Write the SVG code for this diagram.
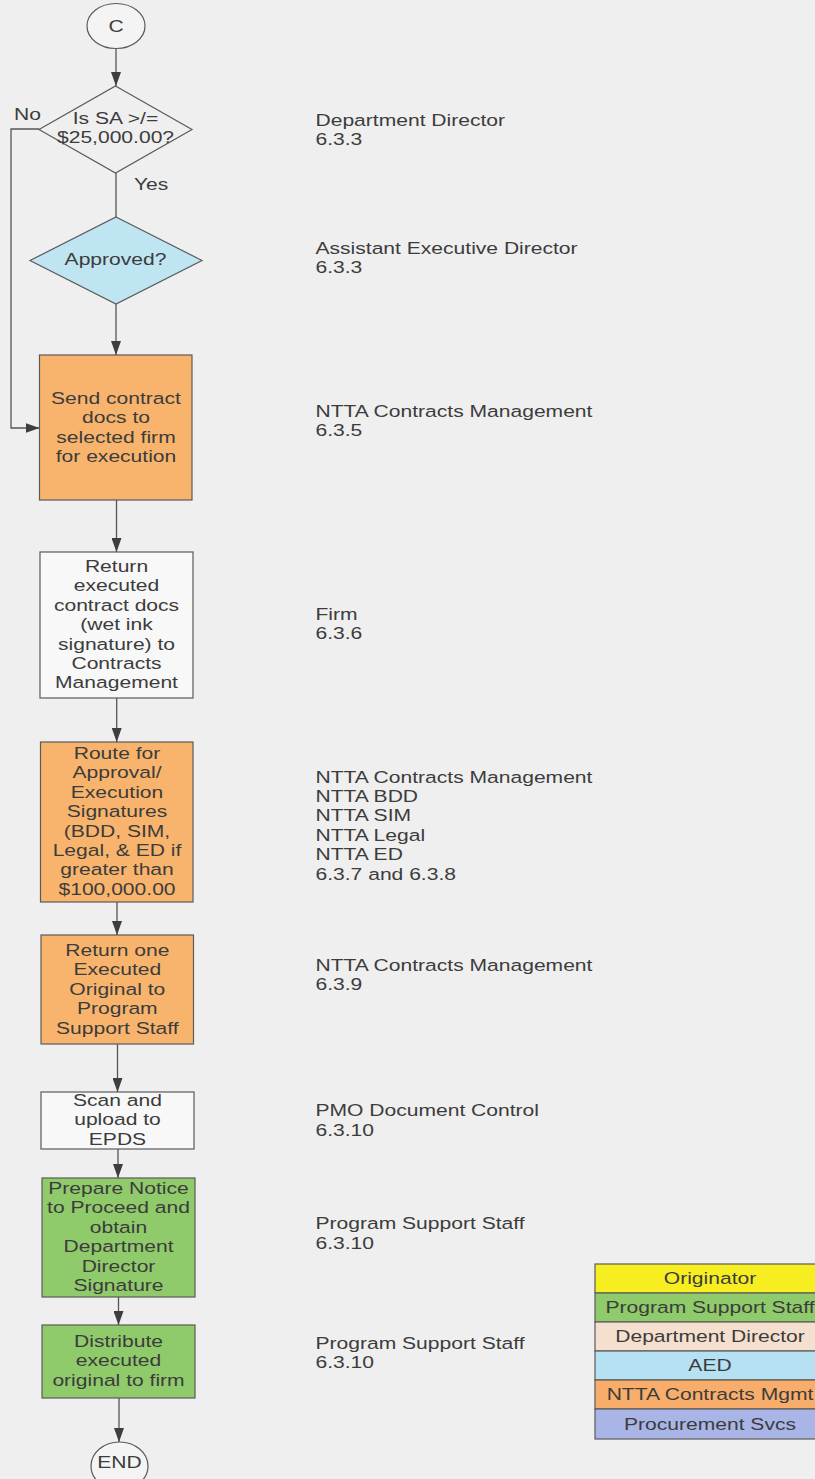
<svg xmlns="http://www.w3.org/2000/svg" width="815" height="1479" viewBox="0 0 815 1479">
<style>
.t{font-family:"Liberation Sans",Arial,sans-serif;font-size:17px;fill:#3c3c3c}
.m{text-anchor:middle}
.shape{stroke:#5a5a5a;stroke-width:1.2}
.ln{fill:none;stroke:#555;stroke-width:1.3}
</style>
<defs>
<marker id="ah" markerUnits="userSpaceOnUse" markerWidth="14" markerHeight="10" refX="14" refY="5" orient="auto">
<path d="M0,0 L14,5 L0,10 z" fill="#3e3e3e"/>
</marker>
</defs>
<rect x="0" y="0" width="815" height="1479" fill="#efefef"/>

<g id="connectors">
<line class="ln" x1="116" y1="49" x2="116" y2="86" marker-end="url(#ah)"/>
<line class="ln" x1="116" y1="173" x2="116" y2="217"/>
<line class="ln" x1="116" y1="304" x2="116" y2="355" marker-end="url(#ah)"/>
<polyline class="ln" points="39,129 11,129 11,428 39.5,428" marker-end="url(#ah)"/>
<line class="ln" x1="116.5" y1="500" x2="116.5" y2="552" marker-end="url(#ah)"/>
<line class="ln" x1="116.7" y1="698" x2="116.7" y2="742" marker-end="url(#ah)"/>
<line class="ln" x1="117" y1="902" x2="117" y2="935" marker-end="url(#ah)"/>
<line class="ln" x1="117.5" y1="1044" x2="117.5" y2="1092" marker-end="url(#ah)"/>
<line class="ln" x1="118" y1="1149" x2="118" y2="1178" marker-end="url(#ah)"/>
<line class="ln" x1="118.5" y1="1297" x2="118.5" y2="1325" marker-end="url(#ah)"/>
<line class="ln" x1="119" y1="1398" x2="119" y2="1442" marker-end="url(#ah)"/>
<g transform="translate(14,0) scale(1.24,1)"><text class="t" x="0" y="120">No</text></g>
<g transform="translate(134,0) scale(1.24,1)"><text class="t" x="0" y="190">Yes</text></g>
</g>

<g id="start">
<ellipse class="shape" cx="116" cy="26" rx="29" ry="22.5" fill="#f4f4f4"/>
<g transform="translate(116,0) scale(1.24,1)"><text class="t m" x="0" y="32">C</text></g>
</g>

<g id="dec-sa">
<polygon class="shape" points="115.5,86 192,129.5 115.5,173 39,129.5" fill="#efefef"/>
<g transform="translate(115.5,0) scale(1.24,1)"><text class="t m" x="0" y="124">Is SA &gt;/=</text><text class="t m" x="0" y="143">$25,000.00?</text></g>
</g>

<g id="dec-approved">
<polygon class="shape" points="116,217 202,260.5 116,304 30,260.5" fill="#bfe5f2"/>
<g transform="translate(115.5,0) scale(1.24,1)"><text class="t m" x="0" y="265">Approved?</text></g>
</g>

<g id="box-send">
<rect class="shape" x="39.5" y="355" width="152.5" height="145" fill="#f8b46d"/>
<g transform="translate(116,0) scale(1.24,1)"><text class="t m" x="0" y="404">Send contract</text><text class="t m" x="0" y="423.4">docs to</text><text class="t m" x="0" y="442.8">selected firm</text><text class="t m" x="0" y="462.2">for execution</text></g>
</g>

<g id="box-return">
<rect class="shape" x="40" y="552" width="153" height="146" fill="#f8f8f8"/>
<g transform="translate(116.5,0) scale(1.24,1)"><text class="t m" x="0" y="572">Return</text><text class="t m" x="0" y="591.4">executed</text><text class="t m" x="0" y="610.8">contract docs</text><text class="t m" x="0" y="630.2">(wet ink</text><text class="t m" x="0" y="649.6">signature) to</text><text class="t m" x="0" y="669">Contracts</text><text class="t m" x="0" y="688.4">Management</text></g>
</g>

<g id="box-route">
<rect class="shape" x="40.5" y="742" width="152.5" height="160" fill="#f8b46d"/>
<g transform="translate(117,0) scale(1.24,1)"><text class="t m" x="0" y="759">Route for</text><text class="t m" x="0" y="778.4">Approval/</text><text class="t m" x="0" y="797.8">Execution</text><text class="t m" x="0" y="817.2">Signatures</text><text class="t m" x="0" y="836.6">(BDD, SIM,</text><text class="t m" x="0" y="856">Legal, &amp; ED if</text><text class="t m" x="0" y="875.4">greater than</text><text class="t m" x="0" y="894.8">$100,000.00</text></g>
</g>

<g id="box-return-one">
<rect class="shape" x="41" y="935" width="152.5" height="109" fill="#f8b46d"/>
<g transform="translate(117.3,0) scale(1.24,1)"><text class="t m" x="0" y="956">Return one</text><text class="t m" x="0" y="975.4">Executed</text><text class="t m" x="0" y="994.8">Original to</text><text class="t m" x="0" y="1014.2">Program</text><text class="t m" x="0" y="1033.6">Support Staff</text></g>
</g>

<g id="box-scan">
<rect class="shape" x="41" y="1092" width="153" height="57" fill="#f8f8f8"/>
<g transform="translate(117.5,0) scale(1.24,1)"><text class="t m" x="0" y="1106">Scan and</text><text class="t m" x="0" y="1125.4">upload to</text><text class="t m" x="0" y="1144.8">EPDS</text></g>
</g>

<g id="box-ntp">
<rect class="shape" x="42" y="1178" width="153" height="119" fill="#8fca6b"/>
<g transform="translate(118.5,0) scale(1.24,1)"><text class="t m" x="0" y="1194">Prepare Notice</text><text class="t m" x="0" y="1213.4">to Proceed and</text><text class="t m" x="0" y="1232.8">obtain</text><text class="t m" x="0" y="1252.2">Department</text><text class="t m" x="0" y="1271.6">Director</text><text class="t m" x="0" y="1291">Signature</text></g>
</g>

<g id="box-distribute">
<rect class="shape" x="42" y="1325" width="153" height="73" fill="#8fca6b"/>
<g transform="translate(118.5,0) scale(1.24,1)"><text class="t m" x="0" y="1347">Distribute</text><text class="t m" x="0" y="1366.4">executed</text><text class="t m" x="0" y="1385.8">original to firm</text></g>
</g>

<g id="end">
<ellipse class="shape" cx="119.5" cy="1466" rx="28.5" ry="24" fill="#f4f4f4"/>
<g transform="translate(119.5,0) scale(1.24,1)"><text class="t m" x="0" y="1468">END</text></g>
</g>

<g id="roles">
<g transform="translate(315.5,0) scale(1.24,1)">
<text class="t" x="0" y="126">Department Director</text><text class="t" x="0" y="145">6.3.3</text>
<text class="t" x="0" y="254">Assistant Executive Director</text><text class="t" x="0" y="273">6.3.3</text>
<text class="t" x="0" y="416.7">NTTA Contracts Management</text><text class="t" x="0" y="435.7">6.3.5</text>
<text class="t" x="0" y="620">Firm</text><text class="t" x="0" y="639">6.3.6</text>
<text class="t" x="0" y="782.7">NTTA Contracts Management</text><text class="t" x="0" y="802.1">NTTA BDD</text><text class="t" x="0" y="821.5">NTTA SIM</text><text class="t" x="0" y="840.9">NTTA Legal</text><text class="t" x="0" y="860.5">NTTA ED</text><text class="t" x="0" y="880">6.3.7 and 6.3.8</text>
<text class="t" x="0" y="971">NTTA Contracts Management</text><text class="t" x="0" y="990">6.3.9</text>
<text class="t" x="0" y="1116">PMO Document Control</text><text class="t" x="0" y="1135.7">6.3.10</text>
<text class="t" x="0" y="1229.3">Program Support Staff</text><text class="t" x="0" y="1249">6.3.10</text>
<text class="t" x="0" y="1349.3">Program Support Staff</text><text class="t" x="0" y="1368">6.3.10</text>
</g>
</g>

<g id="legend">
<rect class="shape" x="595" y="1264" width="240" height="29" fill="#f7ee22"/>
<rect class="shape" x="595" y="1293" width="240" height="29" fill="#8fca6b"/>
<rect class="shape" x="595" y="1322" width="240" height="29" fill="#f5e0d0"/>
<rect class="shape" x="595" y="1351" width="240" height="29" fill="#b5e1f2"/>
<rect class="shape" x="595" y="1380" width="240" height="29" fill="#f8ae6a"/>
<rect class="shape" x="595" y="1409" width="240" height="30" fill="#a9b5e6"/>
<g transform="translate(710,0) scale(1.24,1)">
<text class="t m" x="0" y="1284.5">Originator</text>
<text class="t m" x="0" y="1313.5">Program Support Staff</text>
<text class="t m" x="0" y="1342.5">Department Director</text>
<text class="t m" x="0" y="1371.5">AED</text>
<text class="t m" x="0" y="1400.5">NTTA Contracts Mgmt</text>
<text class="t m" x="0" y="1430">Procurement Svcs</text>
</g>
</g>
</svg>
